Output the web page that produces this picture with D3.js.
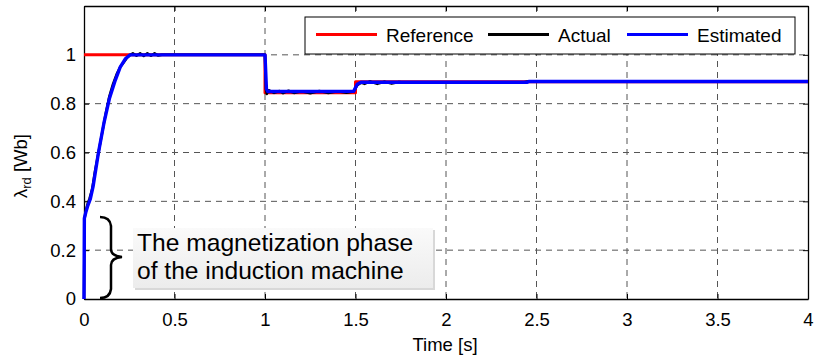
<!DOCTYPE html>
<html><head><meta charset="utf-8">
<script src="https://cdn.jsdelivr.net/npm/d3@7/dist/d3.min.js"></script>
<style>body{margin:0;background:#fff}svg{display:block}text{font-family:"Liberation Sans",Arial,sans-serif}</style>
</head><body><svg id="c" width="819" height="359"></svg>
<script>
const xTicks = [0,0.5,1,1.5,2,2.5,3,3.5,4];
const xTickLabels = ["0","0.5","1","1.5","2","2.5","3","3.5","4"];
const yTicks = [0,0.2,0.4,0.6,0.8,1];
const yTickLabels = ["0","0.2","0.4","0.6","0.8","1"];
const seriesNames = ["Reference","Actual","Estimated"];
const seriesColors = ["#ff0000","#000000","#0000ff"];
const refT = [0,1,1,1.5,1.5,4];
const refV = [1,1,0.845,0.845,0.89,0.89];
const actT = [0,0.003,0.01,0.02,0.03,0.045,0.06,0.08,0.1,0.12,0.14,0.16,0.18,0.2,0.22,0.24,0.255,0.27,0.29,0.31,0.33,0.35,0.37,0.39,0.41,0.43,1.0,1.005,1.01,1.02,1.05,1.08,1.1,1.13,1.16,1.2,1.25,1.3,1.35,1.4,1.45,1.49,1.51,1.53,1.55,1.58,1.62,1.66,1.7,1.74,1.78,2.42,2.45,2.5,4];
const actV = [0,0.33,0.36,0.39,0.41,0.45,0.52,0.6,0.68,0.76,0.83,0.88,0.92,0.95,0.97,0.99,1.0,1.006,0.996,1.006,0.995,1.006,0.996,1.006,0.997,1.0,1.0,0.86,0.84,0.855,0.844,0.852,0.843,0.853,0.844,0.851,0.843,0.852,0.844,0.851,0.845,0.85,0.876,0.886,0.881,0.891,0.881,0.89,0.882,0.889,0.886,0.886,0.891,0.892,0.892];
const estT = [0,0.002,0.01,0.02,0.035,0.05,0.08,0.11,0.14,0.17,0.2,0.23,0.255,0.4,1.0,1.008,1.015,1.1,1.3,1.49,1.51,1.53,2.45,2.46,4];
const estV = [0,0.33,0.355,0.38,0.41,0.46,0.6,0.72,0.82,0.89,0.95,0.985,1.0,1.0,1.0,0.86,0.85,0.85,0.85,0.851,0.88,0.888,0.888,0.891,0.891];
const annotationLines = ["The magnetization phase","of the induction machine"];

const svg = d3.select("#c");
const L=84,R=808,T=6,B=299;
const x = d3.scaleLinear().domain([0,4]).range([L,R]);
const y = d3.scaleLinear().domain([0,1.2]).range([B,T]);

// grid
const g = svg.append("g");
xTicks.slice(1,-1).forEach(t=>g.append("line").attr("x1",x(t)).attr("x2",x(t)).attr("y1",T).attr("y2",B).attr("stroke","#555").attr("stroke-width",1).attr("stroke-dasharray","6,5"));
yTicks.slice(1).forEach(t=>g.append("line").attr("x1",L).attr("x2",R).attr("y1",y(t)).attr("y2",y(t)).attr("stroke","#555").attr("stroke-width",1).attr("stroke-dasharray","6,5"));

// axes
const xa = svg.append("g").attr("transform",`translate(0,${B})`).call(d3.axisBottom(x).tickValues(xTicks).tickFormat((d,i)=>xTickLabels[i]).tickSizeInner(-5).tickSizeOuter(0).tickPadding(14));
const xt = svg.append("g").attr("transform",`translate(0,${T})`).call(d3.axisTop(x).tickValues(xTicks).tickFormat("").tickSizeInner(-5).tickSizeOuter(0));
const ya = svg.append("g").attr("transform",`translate(${L},0)`).call(d3.axisLeft(y).tickValues(yTicks).tickFormat((d,i)=>yTickLabels[i]).tickSizeInner(-5).tickSizeOuter(0).tickPadding(8));
const yr = svg.append("g").attr("transform",`translate(${R},0)`).call(d3.axisRight(y).tickValues(yTicks).tickFormat("").tickSizeInner(-5).tickSizeOuter(0));
[xa,xt,ya,yr].forEach(a=>{a.select(".domain").attr("stroke","#000").attr("stroke-width",1.3);a.selectAll(".tick line").attr("stroke","#000");a.selectAll("text").attr("font-size",18.5).attr("fill","#000").attr("font-family","Liberation Sans, Arial, sans-serif");});

// lines
const line = d3.line().x(d=>x(d[0])).y(d=>y(d[1]));
const data = [d3.zip(refT,refV), d3.zip(actT,actV), d3.zip(estT,estV)];
const widths=[3,2.5,3.4];
data.forEach((d,i)=>svg.append("path").datum(d).attr("d",line).attr("fill","none").attr("stroke",seriesColors[i]).attr("stroke-width",widths[i]).attr("stroke-linejoin","round"));

// legend
const lg = svg.append("g");
lg.append("rect").attr("x",305).attr("y",17).attr("width",490).attr("height",37).attr("fill","#fff").attr("stroke","#000").attr("stroke-width",1);
const legX=[316,488,627];
seriesNames.forEach((n,i)=>{
  lg.append("line").attr("x1",legX[i]).attr("x2",legX[i]+61).attr("y1",34.5).attr("y2",34.5).attr("stroke",seriesColors[i]).attr("stroke-width",3);
  lg.append("text").attr("x",legX[i]+70).attr("y",42).attr("font-size",19).text(n);
});

// annotation box
const defs = svg.append("defs");
const gr = defs.append("linearGradient").attr("id","gb").attr("x1",0).attr("y1",0).attr("x2",0).attr("y2",1);
gr.append("stop").attr("offset","0%").attr("stop-color","#fafafa");
gr.append("stop").attr("offset","100%").attr("stop-color","#ececec");
svg.append("rect").attr("x",135).attr("y",230).attr("width",300).attr("height",60).attr("fill","#d8d8d8");
svg.append("rect").attr("x",133).attr("y",228).attr("width",300).attr("height",60).attr("fill","url(#gb)");
annotationLines.forEach((t,i)=>svg.append("text").attr("x",137).attr("y",251+i*27.5).attr("font-size",24.6).attr("fill","#000").text(t));
// brace
svg.append("path").attr("d","M100,217 Q110,217 111,226 L111,249 Q111,256 122,257 Q111,258 111,265 L111,289 Q110,298 100,298").attr("fill","none").attr("stroke","#000").attr("stroke-width",2.5);

// axis labels
svg.append("text").attr("x",445).attr("y",351).attr("text-anchor","middle").attr("font-size",18.5).text("Time [s]");
const yl = svg.append("text").attr("transform","translate(27,166) rotate(-90)").attr("text-anchor","middle").attr("font-size",18.5);
yl.append("tspan").text("λ");
yl.append("tspan").attr("font-size",13).attr("dy",4).text("rd");
yl.append("tspan").attr("dy",-4).text(" [Wb]");
</script></body></html>
